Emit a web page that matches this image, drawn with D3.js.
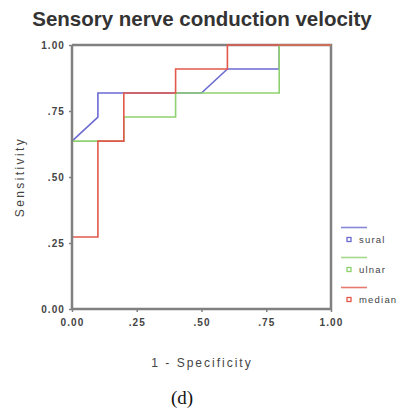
<!DOCTYPE html>
<html><head><meta charset="utf-8">
<script src="https://cdn.jsdelivr.net/npm/d3@7"></script>
<style>body{margin:0;background:#fff;}svg{display:block;}</style>
</head><body>
<svg id="c" width="402" height="416"></svg>
<script>
const title = "Sensory nerve conduction velocity";
const xLabel = "1 - Specificity";
const yLabel = "Sensitivity";
const caption = "(d)";
const tickValues = [0, 0.25, 0.5, 0.75, 1];
const tickLabels = ["0.00", ".25", ".50", ".75", "1.00"];
const seriesNames = ["sural", "ulnar", "median"];
const seriesColors = ["#6b6bd2", "#8fd16f", "#e2584a"];
const suralFpr = [0, 0, 0.1, 0.1, 0.5, 0.6, 0.8, 0.8, 1];
const suralTpr = [0, 0.636, 0.727, 0.818, 0.818, 0.909, 0.909, 1, 1];
const ulnarFpr = [0, 0, 0.2, 0.2, 0.4, 0.4, 0.8, 0.8, 1];
const ulnarTpr = [0, 0.636, 0.636, 0.727, 0.727, 0.818, 0.818, 1, 1];
const medianFpr = [0, 0, 0.1, 0.1, 0.2, 0.2, 0.4, 0.4, 0.6, 0.6, 1];
const medianTpr = [0, 0.273, 0.273, 0.636, 0.636, 0.818, 0.818, 0.909, 0.909, 1, 1];

const series = [
  {name: seriesNames[0], color: seriesColors[0], fpr: suralFpr, tpr: suralTpr},
  {name: seriesNames[1], color: seriesColors[1], fpr: ulnarFpr, tpr: ulnarTpr},
  {name: seriesNames[2], color: seriesColors[2], fpr: medianFpr, tpr: medianTpr}
];

const svg = d3.select("#c");
const x = d3.scaleLinear().domain([0, 1]).range([72, 331]);
const y = d3.scaleLinear().domain([0, 1]).range([309, 45]);
const frameColor = "#808080";
const font = "'Liberation Sans', Arial, sans-serif";

svg.append("text").attr("x", 202).attr("y", 26).attr("text-anchor", "middle")
  .attr("font-family", font).attr("font-size", 20.5).attr("font-weight", "bold")
  .attr("fill", "#333").text(title);

// top and right frame (under the curves)
svg.append("path").attr("d", `M${x(0)},${y(1)}H${x(1)}V${y(0)}`)
  .attr("fill", "none").attr("stroke", frameColor).attr("stroke-width", 2.5);

const line = d3.line().x(d => x(d[0])).y(d => y(d[1]));
series.forEach(s => {
  const pts = s.fpr.map((f, i) => [f, s.tpr[i]]);
  svg.append("path").datum(pts).attr("d", line).attr("fill", "none")
    .attr("stroke", s.color).attr("stroke-width", 1.6);
});

// left and bottom axes
const yAxis = d3.axisLeft(y).tickValues(tickValues).tickFormat((d, i) => tickLabels[i]).tickSize(3).tickPadding(4);
const xAxis = d3.axisBottom(x).tickValues(tickValues).tickFormat((d, i) => tickLabels[i]).tickSize(3).tickPadding(7);
const gy = svg.append("g").attr("transform", `translate(${x(0)},0)`).call(yAxis);
const gx = svg.append("g").attr("transform", `translate(0,${y(0)})`).call(xAxis);
[gy, gx].forEach(g => {
  g.select(".domain").attr("stroke", frameColor).attr("stroke-width", 2.5);
  g.selectAll(".tick line").attr("stroke", frameColor).attr("stroke-width", 1.5);
  g.selectAll(".tick text").attr("font-family", font).attr("font-size", 10)
    .attr("font-weight", "bold").attr("fill", "#444").attr("letter-spacing", "1.1px");
});
gy.select(".domain").attr("d", `M0,${y(0)}V${y(1)}`);
gx.select(".domain").attr("d", `M${x(0)},0H${x(1)}`);

svg.append("text").attr("transform", `translate(24,177) rotate(-90)`).attr("text-anchor", "middle")
  .attr("font-family", font).attr("font-size", 12).attr("fill", "#444").attr("letter-spacing", "2.4px").text(yLabel);
svg.append("text").attr("x", 202).attr("y", 367).attr("text-anchor", "middle")
  .attr("font-family", font).attr("font-size", 12).attr("fill", "#444").attr("letter-spacing", "2px").text(xLabel);
svg.append("text").attr("x", 182).attr("y", 404).attr("text-anchor", "middle")
  .attr("font-family", "'Liberation Serif', 'Times New Roman', serif").attr("font-size", 19).attr("fill", "#111").text(caption);

// legend
series.forEach((s, i) => {
  const ly = 227.5 + i * 30;
  svg.append("line").attr("x1", 341).attr("x2", 367).attr("y1", ly).attr("y2", ly)
    .attr("stroke", s.color).attr("stroke-width", 1.6).attr("opacity", 0.8);
  svg.append("rect").attr("x", 347).attr("y", ly + 10).attr("width", 4).attr("height", 4)
    .attr("fill", "#fff").attr("stroke", s.color).attr("stroke-width", 1.3);
  svg.append("text").attr("x", 359).attr("y", ly + 15.5).attr("font-family", font)
    .attr("font-size", 9.5).attr("fill", "#444").attr("letter-spacing", "1.2px").text(s.name);
});
</script>
</body></html>
